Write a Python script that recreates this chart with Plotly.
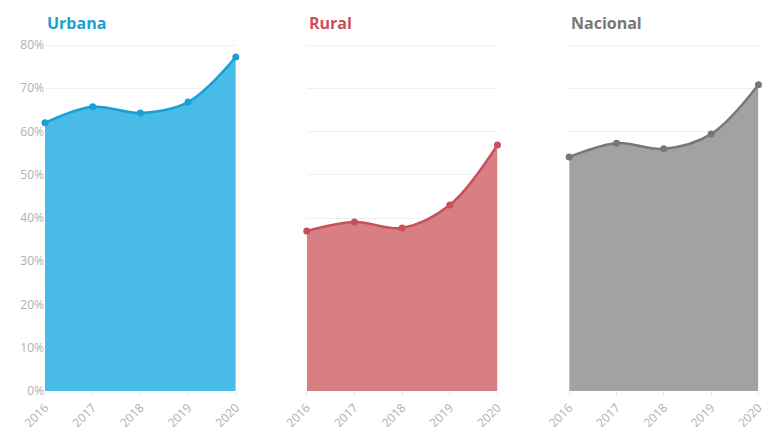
import plotly.graph_objects as go
from plotly.subplots import make_subplots

years = [2016, 2017, 2018, 2019, 2020]
urbana = [62.0, 65.7, 64.3, 66.8, 77.2]
rural = [37.0, 39.1, 37.7, 43.0, 56.9]
nacional = [54.1, 57.3, 56.0, 59.4, 70.8]

series = [
    ("Urbana", urbana, "#1a9fd6", "rgba(62,183,230,0.95)"),
    ("Rural", rural, "#c9505a", "rgba(214,120,124,0.95)"),
    ("Nacional", nacional, "#777777", "rgba(160,160,160,0.98)"),
]

domains = [[0.059, 0.309], [0.402, 0.652], [0.746, 0.994]]

fig = make_subplots(rows=1, cols=3)

for i, (name, vals, line_col, fill_col) in enumerate(series, start=1):
    fig.add_trace(
        go.Scatter(
            x=years, y=vals, name=name,
            mode="lines+markers",
            line=dict(color=line_col, width=2.5, shape="spline", smoothing=1),
            marker=dict(color=line_col, size=7),
            fill="tozeroy", fillcolor=fill_col,
            cliponaxis=False, showlegend=False,
        ),
        row=1, col=i,
    )
    fig.update_xaxes(
        domain=domains[i - 1], range=[2016, 2020],
        tickvals=years, tickangle=-45, automargin=False,
        ticklabeloverflow="allow",
        tickfont=dict(color="#b0b0b0", size=12),
        showgrid=False, zeroline=False, showline=False,
        ticks="outside", ticklen=4, tickcolor="#e8e8e8",
        row=1, col=i,
    )
    fig.update_yaxes(
        domain=[0.0843, 0.9047], range=[0, 81], dtick=10,
        ticksuffix="%", showticklabels=(i == 1), automargin=False,
        tickfont=dict(color="#b0b0b0", size=12),
        gridcolor="#efefef", zeroline=False, showline=False,
        row=1, col=i,
    )
    fig.add_annotation(
        text=f"<b>{name}</b>", xref="paper", yref="paper",
        x=domains[i - 1][0], y=0.946, xanchor="left", yanchor="middle",
        showarrow=False, font=dict(color=line_col, size=16),
    )

fig.update_layout(
    width=763, height=427,
    margin=dict(l=0, r=0, t=0, b=0),
    paper_bgcolor="white", plot_bgcolor="white",
    font=dict(family="Open Sans, sans-serif"),
)

fig.write_html(
    "out.html",
    config={"displayModeBar": False},
    post_script="document.body.style.margin='0';",
)
